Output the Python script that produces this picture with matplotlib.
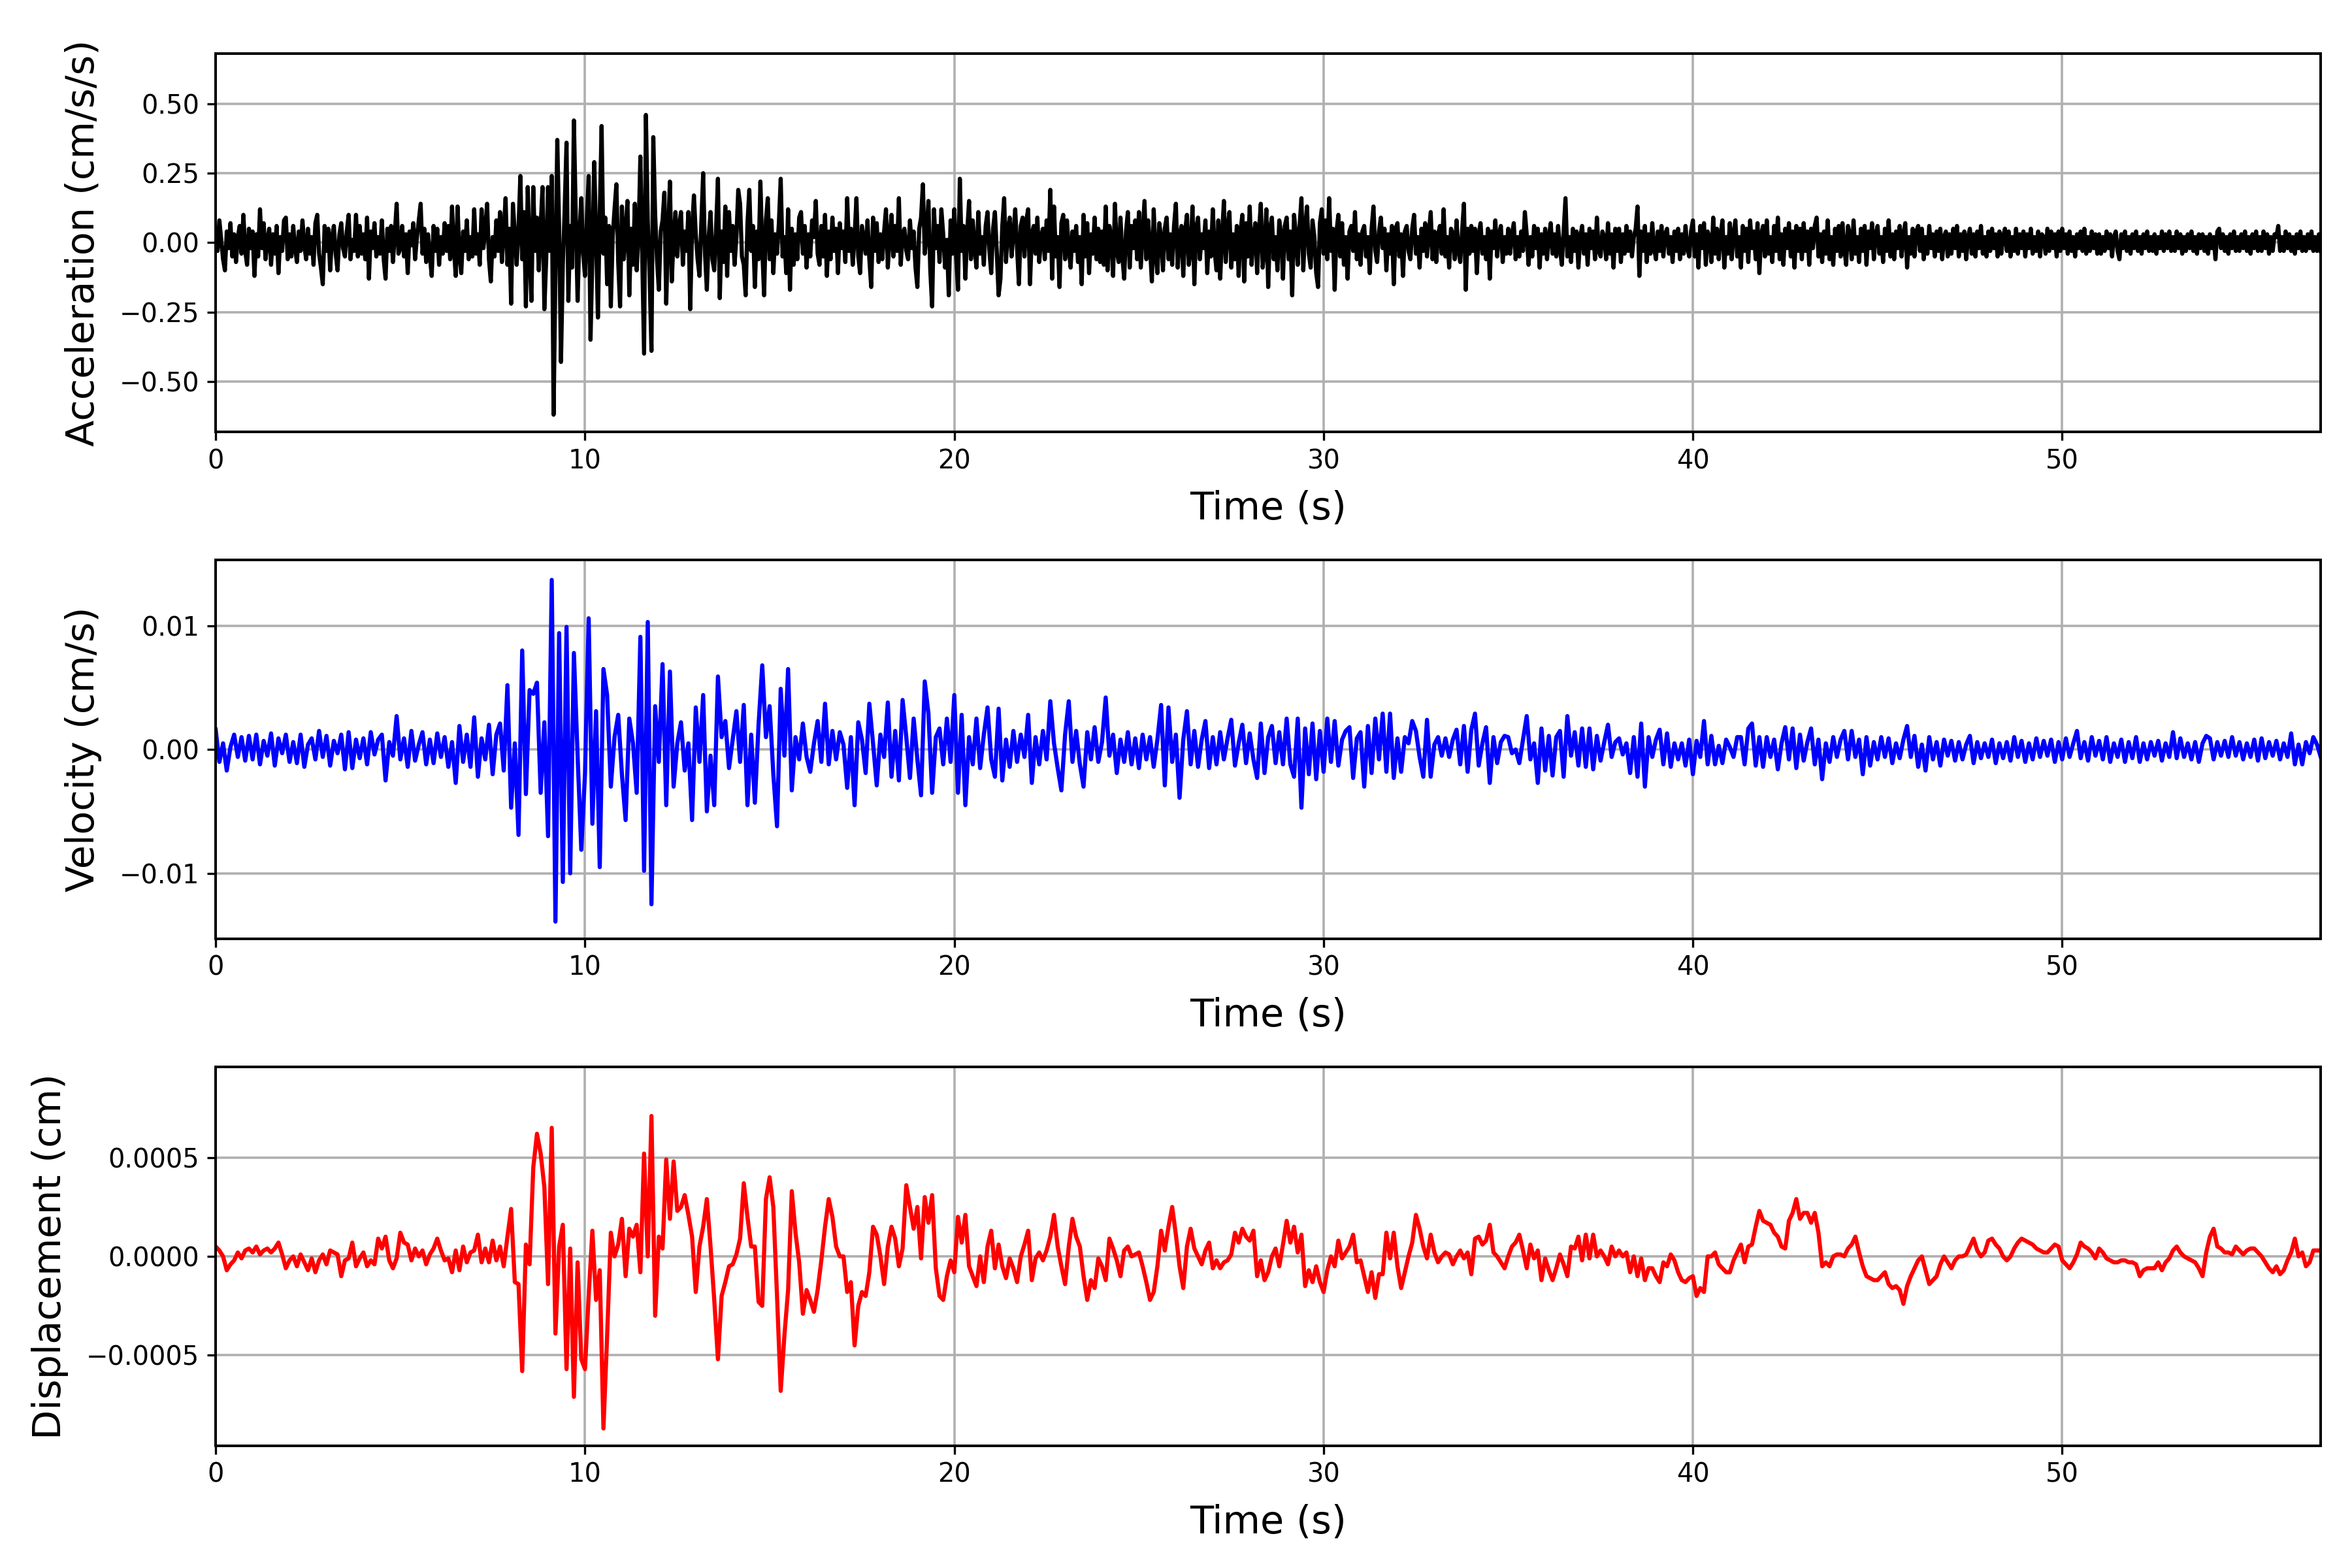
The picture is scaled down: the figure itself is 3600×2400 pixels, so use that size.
import numpy as np
import matplotlib
matplotlib.use("Agg")
import matplotlib.pyplot as plt
from matplotlib.ticker import MultipleLocator

# ---------------- data ----------------
T_END = 57.0             # s, last sample
DT_ACC = 0.05            # s, acceleration samples
DT = 0.1                 # s, velocity / displacement samples
ACC_UNIT = 0.01          # acceleration values below are in 0.01 cm/s/s
VEL_UNIT = 1e-4          # velocity values below are in 1e-4 cm/s
DISP_UNIT = 1e-5         # displacement values below are in 1e-5 cm

# acceleration, 20 samples per second (one row = one second)
acc_00_10 = [
    5, -3, 8, 1, -6, -10, 4, -2, 7, -5, 3, -7, 2, 6, -4, 10, -3, -8, 5, -2,
    4, -12, 3, -5, 12, -2, 7, -6, 1, 5, -8, 3, -4, 6, -11, 2, -3, 8, 9, -6,
    3, -5, 6, -2, -7, 4, -3, 8, -1, -6, 5, -4, 2, -8, 7, 10, -4, -9, -15, 6,
    -3, 5, -10, 2, 6, -4, -10, 3, 7, -2, -5, 4, 10, -6, 1, -3, 10, -5, 6, -4,
    3, -6, 9, -13, 4, -2, 7, -5, 2, -4, 8, -6, -13, 5, -3, 6, -7, 3, 14, -4,
    -2, 6, -5, 3, -11, 4, -1, 7, -6, 2, 8, 14, -4, 5, -7, 3, -5, -12, 6, -3,
    5, -8, 2, -4, 7, -3, 6, -6, 13, -2, -12, 13, -5, -11, 4, -3, 8, -6, 2, -5,
    12, -4, 3, -8, 12, -2, 5, 14, -6, -14, 2, -5, 8, -3, 11, -7, 4, 16, -8, 5,
    -22, 14, 3, -8, 5, 24, -6, 11, -23, 20, -4, -21, 20, -3, 9, -10, 6, 20, -24, -6,
    20, -3, 24, -62, -10, 37, 5, -43, -8, 12, 36, -21, 6, -9, 44, 10, -21, 3, 16, -4,
]
acc_10_20 = [
    -12, 8, 24, -35, -5, 29, 3, -27, 10, 42, -4, 9, -15, 6, -23, 2, 12, 21, -7, -23,
    13, -6, 4, 15, -19, 5, -8, 14, -10, 3, 31, -5, -40, 46, 8, -12, -39, 38, 10, -6,
    -17, 4, 8, 18, -22, 3, 22, -14, 2, 11, -5, 6, 11, -8, 4, -3, 11, -24, 5, 17,
    3, -6, -12, 7, 25, -4, -17, 2, 11, -6, -10, 5, 23, -20, 4, -7, 13, -12, 11, -3,
    6, -8, 2, 19, 14, -5, -8, -19, 7, 19, -3, 6, -16, 4, -6, 22, -2, -19, 8, 16,
    -6, 8, -11, 3, -4, 7, 23, -5, 2, -11, 12, -17, 5, -8, 3, -6, 9, 11, -4, 6,
    -9, 3, -5, 8, 2, 15, -4, -8, 6, -5, 10, -12, 4, -6, 9, -3, 5, -11, 7, -2,
    4, -7, 16, -3, 5, -8, 2, 16, -5, -11, 6, 1, -4, 8, -6, -16, 9, -3, 7, -7,
    3, -6, 4, 12, -9, 2, 10, -5, 6, -3, 16, -8, 3, 5, -3, -6, 8, -2, 4, -9,
    -16, 5, 9, 21, -4, 3, 15, -10, -23, 12, -2, 6, -7, 12, 3, -9, 1, -19, 8, -4,
]
acc_20_30 = [
    12, -5, -17, 23, -3, 6, -13, 4, 15, -6, 8, -2, -9, 11, -4, 2, -8, 6, 11, -3,
    -11, 5, 11, -3, -19, -13, 6, 16, -7, 4, 9, -5, 3, 12, -2, -15, 6, 9, -5, 8,
    12, -15, 3, 6, -4, 9, -7, 2, 5, -6, 8, -3, 19, -13, 13, -5, 2, -16, 7, 10,
    -6, 8, -2, -9, 4, -3, 6, -7, 2, -15, 10, -5, 7, -11, 3, -4, 9, -6, 5, -7,
    4, -8, 13, -10, 6, 2, -12, 14, -3, -7, 9, -5, -13, 4, 11, -9, 6, -2, 8, -6,
    11, -9, 3, 15, -6, 8, -2, -14, 12, -4, -11, 7, 2, -10, 5, 9, -6, 3, -8, 6,
    14, -9, 2, 6, -12, 4, 10, -8, -3, 13, -15, 5, 9, -6, 3, -2, 8, -11, 4, -5,
    12, -3, -10, 8, -13, 2, 15, -7, 5, 11, -9, 3, -6, 6, -12, 4, 10, -14, 7, -5,
    13, -8, 2, 7, -11, 4, 14, -9, -3, 12, -16, 5, 9, -6, 2, -10, 8, 3, -13, 6,
    9, -6, 4, -19, 10, 3, -8, 6, 16, -10, 5, 13, -4, -9, 8, 2, -11, -16, 7, 12,
]
acc_30_40 = [
    -4, 8, -6, 16, -3, 5, -17, 4, 10, -5, 7, -8, 2, -13, 4, 6, -3, 11, -6, 3,
    -8, 4, 6, -5, 2, -11, 5, 13, -3, -7, 4, 9, -2, 5, -10, 3, -4, 6, -15, 5,
    7, -5, 3, -12, 4, 6, -3, -6, 5, 10, -4, 2, -9, 5, -3, 7, -5, 3, 11, -6,
    4, -7, 3, 6, -4, 12, -5, 2, -9, 5, 3, -6, 8, -3, -7, 4, 14, -17, 5, -4,
    6, -3, 5, -11, 3, 7, -4, 2, -6, 5, -13, 4, -2, 8, -5, 3, 6, -7, 2, -4,
    5, -4, 3, 7, -6, 2, -5, 4, -3, 11, 3, -8, 2, -5, 6, -2, 5, -9, 3, -4,
    5, -6, 2, 7, -4, 3, -5, 6, -2, -8, 4, 16, -5, 2, -7, 5, -3, 4, -9, 2,
    6, -4, 3, -8, 5, -2, 4, -6, 9, -3, -5, 4, 2, -6, 7, -4, 3, -9, 5, -3,
    5, -7, 3, -4, 6, -3, 4, -5, 2, 5, 13, -12, 4, -3, 6, -7, 3, -4, 7, -2,
    -6, 4, -3, 6, -5, 3, 5, -4, 2, -7, 4, -3, 5, -6, 3, -4, 6, -2, -5, 4,
]
acc_40_50 = [
    8, -5, 3, -9, 6, -2, 7, -8, 4, 2, -7, 9, -4, 5, -6, 3, 8, -9, 2, -4,
    7, -6, 3, 8, -5, 2, -9, 6, -3, 5, -7, 8, -2, 4, -6, 7, -11, 3, 6, -5,
    8, -4, 2, -7, 6, -3, 9, -6, 3, -8, 5, -2, 7, -5, 4, -9, 6, -3, 5, -6,
    7, -3, 4, -8, 5, -2, 6, 9, -5, 3, -7, 4, -4, 8, -6, 2, -8, 5, -3, 6,
    -5, 7, -2, -8, 6, 3, -6, 8, -4, 2, -7, 5, -3, 6, -8, 4, -2, 7, -6, 3,
    6, -4, 2, -7, 5, -3, 8, -5, 3, -6, 4, -2, 6, -5, 3, 7, -9, 2, -4, 5,
    -5, 4, 6, -3, 5, -6, 2, -4, 6, -2, 3, -5, 4, -3, 5, -6, 2, 4, -5, 3,
    -4, 5, -2, 6, -5, 3, -3, 4, -6, 2, 5, -4, 3, -5, 4, -2, 6, -4, 2, -5,
    4, -3, 5, -2, 3, -5, 4, -4, 2, 5, -3, 4, -5, 2, -3, 5, -4, 3, -2, 4,
    -5, 3, -2, 5, -4, 2, -3, 4, -5, 3, 2, -4, 5, -3, 4, -2, 3, -5, 4, -3,
]
acc_50_57 = [
    5, -2, 3, -4, 4, -3, 2, -5, 3, -2, 4, -3, 5, -4, 2, -3, 4, -2, 3, -4,
    3, -4, 2, -3, 4, -2, 3, -5, 2, 4, -3, -6, 3, -2, 4, -3, 2, -4, 3, -2,
    4, -3, 2, -4, 3, -2, 4, -3, 2, -3, 3, -4, 2, -2, 4, -3, 3, -2, 4, -3,
    2, -3, 4, -2, 3, -4, 2, -3, 3, -2, 4, -3, 2, -4, 3, -2, 3, -3, 2, -4,
    3, -2, 2, -6, 4, 5, -2, 3, -3, 2, -4, 3, -2, 4, -3, 2, -3, 3, -2, 4,
    -3, 2, -4, 3, -2, 4, -3, 2, -3, 4, -2, 3, -4, 2, -3, 3, 2, 6, -3, 2,
    -3, 4, -2, 3, -3, 2, -4, 3, -2, 4, -3, 2, -3, 3, -2, 4, -3, 2, -3, 3,
    -3,
]

# velocity, 10 samples per second
vel_00_10 = [
    16, -10, 5, -17, 2, 12, -6, 10, -9, 11,
    -8, 12, -12, 7, -5, 13, -13, 9, -3, 12,
    -10, 6, -11, 12, -14, 4, 9, -8, 15, -6,
    11, -13, 7, -3, 12, -16, 14, -15, 8, -7,
    9, -12, 14, -4, 8, 12, -25, 6, -5, 27,
    -8, 9, -14, 15, -9, 4, 14, -12, 8, -11,
    13, -6, 10, -14, 6, -27, 19, -10, 12, -14,
    26, -22, 9, -8, 20, -20, 12, 21, -17, 52,
    -47, 5, -69, 80, -36, 48, 45, 54, -35, 22,
    -70, 137, -139, 94, -107, 99, -100, 78, -5, -81,
]
vel_10_20 = [
    -20, 106, -60, 31, -95, 65, 44, -30, 10, 28,
    -20, -57, 25, 5, -35, 91, -98, 103, -125, 35,
    -10, 69, -45, 63, -30, 5, 22, -17, 5, -57,
    34, -10, 44, -50, -5, -45, 59, 10, 23, -15,
    8, 31, -10, 36, -45, 12, -43, 20, 68, 10,
    35, -20, -62, 49, -5, 65, -33, 10, -8, 21,
    -6, -18, 5, 23, -10, 37, -12, 15, -8, 14,
    4, -31, 10, -45, 22, 8, -19, 37, 5, -29,
    12, -6, 38, -22, 15, -25, 40, 10, -23, 25,
    -8, -37, 55, 29, -35, 10, 17, -12, 25, -10,
]
vel_20_30 = [
    44, -35, 28, -45, 10, -12, 25, -15, 12, 34,
    -8, -22, 33, -25, 8, -14, 15, -10, 12, -6,
    28, -27, 10, -12, 15, -8, 39, 5, -15, -33,
    12, 39, -10, 15, -12, -30, 14, -8, 18, -10,
    6, 42, -5, 12, -19, 8, -10, 14, -12, 9,
    -15, 12, -8, 10, -14, 8, 36, -29, 34, -10,
    12, -39, 8, 31, -12, 15, -14, 8, 23, -15,
    10, -12, 14, -8, 9, 24, -13, 5, 20, -11,
    13, -8, -23, 21, -19, 10, 19, -11, 14, -12,
    25, -12, -22, 25, -47, 17, -20, 21, -24, 15,
]
vel_30_40 = [
    -18, 25, -10, 23, -13, 8, 15, 18, -23, 9,
    14, -30, 19, -19, 25, -8, 29, -18, 29, -23,
    9, -18, 10, 5, 23, 15, -6, -22, 24, -22,
    4, 10, -5, 9, -6, 8, 16, -12, 19, -18,
    16, 29, -13, 5, 18, -27, 10, -11, 6, 11,
    10, -3, 0, -11, 8, 27, -8, 5, -27, 17,
    -17, 11, -21, 10, 15, -22, 27, -5, 14, -13,
    17, -14, 17, -16, 11, -9, 6, 20, -6, 6,
    9, -4, 5, -19, 10, -22, 21, -30, 10, -6,
    8, 16, -12, 13, -14, 5, -8, 5, -13, 8,
]
vel_40_50 = [
    -20, 7, -6, 23, -12, 11, -12, 3, -11, 8,
    2, -6, 10, 10, -12, 17, 21, -13, 10, -14,
    10, -6, 8, -16, 5, 18, -8, 17, -15, 12,
    -9, 6, 17, -12, 8, -24, 5, -10, 10, -6,
    8, 15, -8, 15, -6, 8, -20, 10, -13, 6,
    -8, 10, -6, 9, -11, 5, -7, 8, 19, -6,
    11, -14, 4, -17, 10, -8, 6, -13, 8, -5,
    7, -9, 6, -8, 4, 11, -11, 6, -7, 5,
    -6, 8, -11, 5, -7, 6, -9, 10, -6, 7,
    -10, 5, -8, 9, -6, 7, -5, 8, -10, 6,
]
vel_50_57 = [
    -8, 9, -6, 5, 15, -7, 6, -9, 10, -5,
    7, -8, 10, -10, 5, -6, 8, -10, 6, -7,
    10, -10, 5, -8, 6, -5, 7, -9, 5, -6,
    14, -7, 9, -6, 5, -8, 6, -10, 5, 11,
    9, -8, 6, -5, 7, -6, 10, -5, 6, -8,
    5, -6, 8, -9, 9, -7, 6, -5, 7, -8,
    5, -6, 13, -12, 4, -12, 6, -3, 10, 4,
    -6,
]

# displacement, 10 samples per second
disp_00_10 = [
    5, 3, 0, -7, -4, -2, 2, -1, 3, 4,
    2, 5, 1, 3, 4, 2, 4, 7, 1, -6,
    -2, 0, -5, 1, -3, -7, -1, -8, -2, 1,
    -4, 3, 2, 1, -10, -2, -1, 7, -5, -1,
    2, -5, -2, -4, 9, 4, 10, -2, -6, -1,
    12, 7, 6, -2, 4, 0, 3, -4, 1, 4,
    9, 3, -2, -1, -8, 3, -7, 5, -3, 2,
    3, 11, -3, 4, -3, 8, -2, 5, -5, 10,
    24, -13, -14, -58, 6, -4, 45, 62, 52, 35,
    -14, 65, -39, 5, 16, -57, 4, -71, -3, -52,
]
disp_10_20 = [
    -57, -20, 13, -22, -7, -87, -40, 12, 0, 6,
    19, -10, 14, 10, 16, -8, 52, 0, 71, -30,
    10, 4, 49, 19, 48, 23, 25, 31, 21, 10,
    -18, 5, 15, 29, 5, -22, -52, -20, -13, -5,
    -4, 1, 9, 37, 20, 5, 5, -23, -25, 29,
    40, 25, -20, -68, -40, -17, 33, 12, -3, -29,
    -17, -22, -28, -17, -2, 15, 29, 20, 5, 0,
    0, -18, -13, -45, -25, -18, -20, -8, 15, 11,
    0, -14, 5, 15, 9, -5, 4, 36, 25, 14,
    25, -1, 30, 17, 31, -6, -20, -22, -10, -2,
]
disp_20_30 = [
    -8, 20, 7, 21, -5, -10, -15, 0, -13, 5,
    13, -6, 6, -5, -11, -1, -6, -13, 0, 6,
    13, -12, -1, 2, -2, 3, 10, 21, 5, -5,
    -14, 5, 19, 10, 5, -10, -22, -12, -16, -1,
    -5, -12, 9, 4, -2, -10, 3, 5, 0, 1,
    2, -5, -13, -22, -18, -5, 13, 3, 15, 25,
    11, -5, -16, 5, 14, 4, 0, -4, 3, 7,
    -6, -2, -6, -3, -2, 1, 12, 7, 14, 10,
    8, 13, -10, -2, -12, -8, 0, 4, -5, 6,
    18, 7, 15, 2, 11, -15, -7, -13, -5, -13,
]
disp_30_40 = [
    -18, -7, 0, -5, 8, -1, 2, 5, 11, -3,
    -2, -10, -18, -8, -21, -9, -9, 12, -1, 12,
    -5, -16, -8, 0, 7, 21, 14, 5, -1, 11,
    2, -3, 0, 2, 1, -4, 0, 3, -1, 2,
    -9, 9, 10, 6, 8, 16, 2, 0, -3, -6,
    0, 5, 7, 11, 3, -6, 6, -1, 3, -12,
    -1, -7, -12, -6, 1, -4, -10, 5, 4, 10,
    -2, 11, -1, 11, 0, 3, 0, -4, 5, 0,
    3, 0, 2, -8, 0, -10, -1, -12, -6, -6,
    -10, -13, -3, -5, 1, -2, -8, -12, -13, -11,
]
disp_40_50 = [
    -10, -20, -16, -18, 0, 0, 2, -4, -6, -8,
    -8, -2, 2, 6, -3, 5, 6, 15, 23, 18,
    17, 16, 12, 10, 5, 4, 18, 22, 29, 19,
    22, 22, 17, 22, 12, -5, -3, -5, 0, 1,
    1, 0, 4, 6, 10, 2, -5, -10, -11, -12,
    -12, -10, -8, -14, -16, -15, -17, -24, -15, -10,
    -6, -2, 0, -7, -14, -12, -10, -4, 0, -3,
    -6, -2, 0, 0, 1, 5, 9, 3, 0, 2,
    8, 9, 6, 4, 0, -2, 0, 4, 7, 9,
    8, 7, 6, 4, 3, 2, 2, 4, 6, 5,
]
disp_50_57 = [
    -2, -4, -6, -3, 1, 7, 5, 4, 2, -1,
    4, 2, -1, -2, -3, -3, -2, -2, -3, -3,
    -4, -10, -7, -6, -6, -6, -3, -7, -3, -1,
    3, 5, 2, 0, -1, -2, -3, -6, -10, 2,
    10, 14, 5, 4, 2, 2, 1, 5, 3, 1,
    3, 4, 4, 2, 0, -3, -6, -8, -5, -9,
    -7, -2, 2, 9, 0, 2, -5, -3, 3, 3,
    3,
]

ylabels = ["Acceleration (cm/s/s)", "Velocity (cm/s)", "Displacement (cm)"]
xlabel = "Time (s)"
colors = ["black", "blue", "red"]
ytick_steps = [0.25, 0.01, 0.0005]

acc = np.array(acc_00_10 + acc_10_20 + acc_20_30 + acc_30_40 + acc_40_50 + acc_50_57) * ACC_UNIT
vel = np.array(vel_00_10 + vel_10_20 + vel_20_30 + vel_30_40 + vel_40_50 + vel_50_57) * VEL_UNIT
disp = np.array(disp_00_10 + disp_10_20 + disp_20_30 + disp_30_40 + disp_40_50 + disp_50_57) * DISP_UNIT
series = [(acc, DT_ACC), (vel, DT), (disp, DT)]

# ---------------- figure ----------------
plt.rcParams["font.family"] = ["DejaVu Sans"]
fig, axes = plt.subplots(3, 1, figsize=(15, 10), dpi=240)
fig.subplots_adjust(left=0.0917, right=0.9867, top=0.966, bottom=0.078, hspace=0.339)

for ax, (y, dt), c, lab, step in zip(axes, series, colors, ylabels, ytick_steps):
    t = np.arange(len(y)) * dt
    ax.plot(t, y, color=c, lw=1.9)
    ax.set_xlim(0, T_END)
    m = 1.1 * np.max(np.abs(y))
    ax.set_ylim(-m, m)
    ax.xaxis.set_major_locator(MultipleLocator(10))
    ax.yaxis.set_major_locator(MultipleLocator(step))
    ax.grid(True, color="#b0b0b0", lw=1.1)
    ax.set_axisbelow(True)
    ax.set_xlabel(xlabel, fontsize=17.7, labelpad=7)
    ax.set_ylabel(lab, fontsize=17.7, labelpad=8)
    ax.tick_params(labelsize=12, width=1.0, length=4)
    for s in ax.spines.values():
        s.set_linewidth(1.2)

fig.savefig("out.png", dpi=240)
